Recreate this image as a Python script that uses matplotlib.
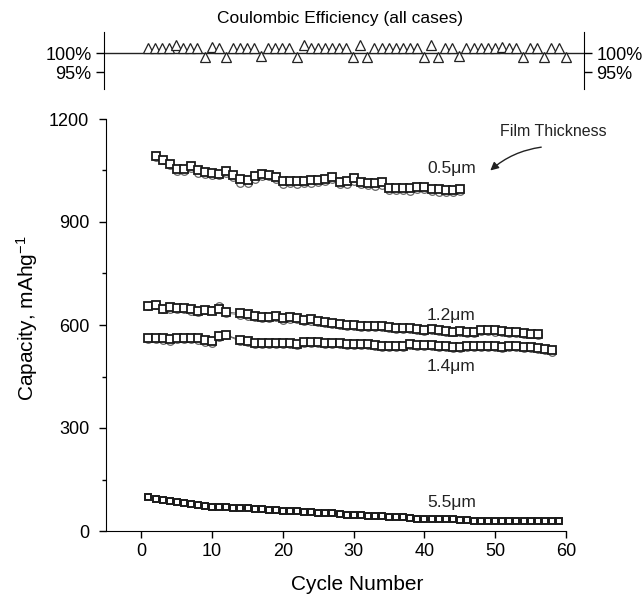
import matplotlib
matplotlib.use("Agg")
import matplotlib.pyplot as plt
from matplotlib.ticker import MultipleLocator

plt.rcParams["font.family"] = ["Liberation Sans", "DejaVu Sans"]
plt.rcParams["mathtext.default"] = "regular"

# ── Data ─────────────────────────────────────────────────────────────────────
cyc05 = list(range(2, 46))
sq05 = [1092, 1082, 1068, 1055, 1055, 1062, 1050, 1046, 1042, 1040, 1048, 1036,
        1024, 1022, 1033, 1040, 1037, 1031, 1020, 1020, 1019, 1018, 1022, 1023,
        1026, 1031, 1017, 1018, 1028, 1017, 1014, 1014, 1016, 1000, 998, 998,
        998, 1001, 1002, 996, 995, 994, 993, 995]
ci05 = [1090, 1080, 1066, 1048, 1049, 1058, 1044, 1040, 1036, 1038, 1042, 1030,
        1014, 1013, 1026, 1034, 1033, 1025, 1012, 1013, 1011, 1014, 1015, 1016,
        1020, 1024, 1012, 1012, 1020, 1010, 1008, 1006, 1008, 992, 994, 993,
        990, 995, 996, 990, 988, 987, 988, 990]

cyc12 = list(range(1, 13)) + list(range(14, 57))
sq12 = [656, 659, 648, 651, 650, 649, 646, 641, 643, 640, 648, 637,
        634, 631, 626, 624, 624, 626, 620, 622, 621, 615, 617, 613, 609, 607,
        603, 601, 600, 598, 596, 597, 596, 594, 590, 592, 590, 588, 586, 588,
        585, 583, 581, 582, 580, 580, 585, 586, 584, 582, 581, 580, 578, 575, 574]
ci12 = [654, 657, 646, 648, 647, 646, 642, 637, 645, 643, 654, 634,
        630, 627, 622, 620, 620, 622, 615, 618, 617, 611, 613, 610, 606, 604,
        600, 598, 597, 595, 594, 594, 593, 591, 588, 589, 587, 585, 583, 585,
        582, 580, 579, 580, 578, 578, 582, 583, 581, 579, 578, 577, 575, 573, 572]

cyc14 = list(range(1, 13)) + list(range(14, 59))
sq14 = [561, 563, 561, 558, 561, 563, 563, 561, 557, 553, 569, 571,
        556, 554, 549, 548, 547, 547, 548, 548, 546, 551, 551, 551, 549, 547,
        547, 545, 545, 546, 545, 542, 540, 538, 538, 539, 545, 543, 542, 542,
        540, 538, 537, 537, 538, 539, 540, 539, 538, 537, 538, 539, 537, 535,
        533, 530, 526]
ci14 = [558, 560, 557, 553, 558, 560, 559, 556, 550, 548, 565, 570,
        552, 551, 545, 545, 544, 544, 545, 545, 542, 548, 548, 548, 546, 544,
        544, 541, 542, 543, 541, 539, 537, 535, 535, 536, 541, 539, 539, 538,
        537, 535, 534, 534, 535, 536, 537, 536, 535, 534, 535, 536, 534, 532,
        530, 527, 522]

cyc55 = list(range(1, 60))
sq55 = [100, 93, 90, 87, 84, 81, 78, 75, 73, 71,
        70, 69, 68, 67, 66, 64, 63, 62, 61, 59,
        58, 57, 56, 55, 53, 52, 51, 50, 48, 47,
        46, 45, 44, 43, 42, 41, 40, 38, 36, 34,
        34, 34, 34, 34, 33, 32, 30, 30, 30, 30,
        30, 30, 30, 30, 29, 28, 28, 28, 28]

ce = [101.2, 101.2, 101.2, 101.4, 102.0, 101.4, 101.2, 101.2, 99.0, 101.6,
      101.2, 98.9, 101.2, 101.2, 101.4, 101.2, 99.1, 101.2, 101.4, 101.2,
      101.2, 99.0, 102.0, 101.2, 101.2, 101.2, 101.4, 101.2, 101.2, 98.9,
      102.2, 98.9, 101.2, 101.2, 101.2, 101.4, 101.2, 101.2, 101.2, 99.0,
      102.0, 99.0, 101.2, 101.2, 99.1, 101.2, 101.2, 101.2, 101.4, 101.2,
      101.6, 101.2, 101.2, 99.0, 101.2, 101.2, 99.0, 101.4, 101.2, 98.9]
cyc_ce = list(range(1, len(ce) + 1))

thickness_labels = ["0.5\u03bcm", "1.2\u03bcm", "1.4\u03bcm", "5.5\u03bcm"]

# ── Figure ───────────────────────────────────────────────────────────────────
W, H = 644, 595
fig = plt.figure(figsize=(W / 100, H / 100), dpi=100)

def px_axes(x0, y0, x1, y1):
    return fig.add_axes([x0 / W, 1 - y1 / H, (x1 - x0) / W, (y1 - y0) / H])

ax = px_axes(106, 119, 566, 531)
ax.set_xlim(-5, 60)
ax.set_ylim(0, 1200)
for s in ("top", "right"):
    ax.spines[s].set_visible(False)
ax.xaxis.set_major_locator(MultipleLocator(10))
ax.yaxis.set_major_locator(MultipleLocator(300))
ax.yaxis.set_minor_locator(MultipleLocator(150))
ax.tick_params(direction="out", length=5, width=1, labelsize=13, pad=4)
ax.tick_params(axis="y", which="minor", direction="out", length=3, width=1)
ax.tick_params(axis="y", pad=7)
ax.set_xticks(range(0, 61, 10))

sq_kw = dict(marker="s", ms=5.5, mfc="white", mec="#1a1a1a", mew=1.3,
             color="#333333", lw=0.5, zorder=3)
ci_kw = dict(marker="o", ms=5.5, mfc="white", mec="#666666", mew=0.9,
             color="#555555", lw=0.5, zorder=2)

ax.plot(cyc05, ci05, **ci_kw)
ax.plot(cyc05, sq05, **sq_kw)
ax.plot(cyc12, ci12, **ci_kw)
ax.plot(cyc12, sq12, **sq_kw)
ax.plot(cyc14, ci14, **ci_kw)
ax.plot(cyc14, sq14, **sq_kw)
ax.plot(cyc55, sq55, marker="s", ms=4.8, mfc="white", mec="#1a1a1a", mew=1.4,
        color="#333333", lw=0.5, zorder=3)

for lab, (lx, ly) in zip(thickness_labels,
                         [(43.8, 1057), (43.8, 629), (43.8, 479), (43.8, 82)]):
    ax.text(lx, ly, lab, ha="center", va="center", fontsize=12.5, color="#222222")

ax.text(58.2, 1165, "Film Thickness", ha="center", va="center",
        fontsize=11.5, color="#222222", clip_on=False)
ax.annotate("", xy=(49.3, 1050), xytext=(56.5, 1118), annotation_clip=False,
            arrowprops=dict(arrowstyle="-|>", color="#222222", lw=1,
                            shrinkA=0, shrinkB=0, mutation_scale=12,
                            connectionstyle="arc3,rad=0.15"))

fig.text(357 / W, 1 - 584 / H, "Cycle Number", ha="center", va="center",
         fontsize=15)
fig.text(27 / W, 1 - 318 / H, "Capacity, mAhg$^{-1}$", ha="center",
         va="center", rotation=90, fontsize=15)

# ── Coulombic efficiency panel ───────────────────────────────────────────────
top = px_axes(104, 32, 584, 89)
top.set_xlim(-5.2, 62.6)
top.set_ylim(90.6, 105.5)
for s in ("top", "bottom"):
    top.spines[s].set_visible(False)
top.set_xticks([])
top.set_yticks([95, 100])
top.set_yticklabels(["95%", "100%"])
top.tick_params(axis="y", direction="out", length=6, width=1, labelsize=13,
                left=True, right=True, labelleft=True, labelright=True, pad=3)
top.axhline(100, color="#222222", lw=1, zorder=1)
top.plot(cyc_ce, ce, ls="none", marker="^", ms=6.8, mfc="white", mec="#222222",
         mew=0.9, zorder=3)
top.patch.set_alpha(0)

fig.text(340 / W, 1 - 18 / H, "Coulombic Efficiency (all cases)",
         ha="center", va="center", fontsize=12.5)

fig.savefig("out.png", dpi=100)
